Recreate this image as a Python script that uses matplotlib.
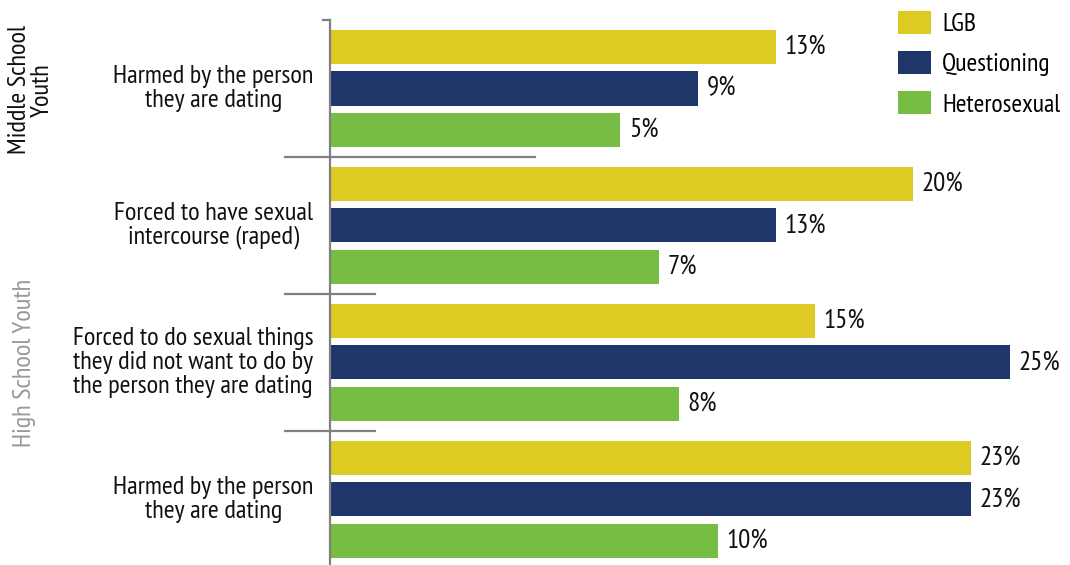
import matplotlib
matplotlib.use("Agg")
import matplotlib.pyplot as plt
from matplotlib import font_manager

# ---- data ----
categories = [
    "Harmed by the person\nthey are dating",
    "Forced to have sexual\nintercourse (raped)",
    "Forced to do sexual things\nthey did not want to do by\nthe person they are dating",
    "Harmed by the person\nthey are dating",
]
series_names = ["LGB", "Questioning", "Heterosexual"]
lgb = [13, 20, 15, 23]
questioning = [9, 13, 25, 23]
heterosexual = [5, 7, 8, 10]
value_labels_fmt = "{}%"
colors = ["#DDCA22", "#1E3669", "#78BD43"]

avail = {f.name for f in font_manager.fontManager.ttflist}
fam = "DejaVu Sans"
for cand in ["PT Sans Narrow", "Fira Sans Condensed", "Roboto Condensed",
             "Barlow Semi Condensed", "Asap Condensed", "Archivo Narrow"]:
    if cand in avail:
        fam = cand
        break
plt.rcParams["font.family"] = [fam, "DejaVu Sans"]

W, H = 1070, 565
fig = plt.figure(figsize=(W / 100, H / 100), dpi=100)
ax_left = 331 / W
ax = fig.add_axes([ax_left, 0, 1 - ax_left, 1])

# scale: pixel x = 522.5 + 19.5*v
x0 = (331 - 522.5) / 19.5
x1 = (1070 - 522.5) / 19.5
ax.set_xlim(x0, x1)
pitch = 41.5
y_top = -47 / pitch
y_bot = (H - 47) / pitch
ax.set_ylim(y_bot, y_top)

gp = 3.3
bh = 0.82
fs = 19
series = [lgb, questioning, heterosexual]
for i, (vals, col, name) in enumerate(zip(series, colors, series_names)):
    ys = [g * gp + i for g in range(len(vals))]
    widths = [v - x0 for v in vals]
    ax.barh(ys, widths, left=x0, height=bh, color=col, label=name)
    for y, v in zip(ys, vals):
        ax.text(v + 0.45, y, value_labels_fmt.format(v), va="center", ha="left",
                fontsize=19.5, color="#111111")

for g, cat in enumerate(categories):
    yc = g * gp + 1
    ax.text(x0 - 0.9, yc, cat, ha="right", va="center", fontsize=fs,
            multialignment="center", linespacing=1.05, color="#111111", clip_on=False)

for a in ax.spines.values():
    a.set_visible(False)
ax.set_xticks([])
ax.set_yticks([])

gray = "#808080"
# vertical axis line
ax.plot([x0 - 0.03, x0 - 0.03], [(20 - 47) / pitch, y_bot], color=gray, lw=1.6, clip_on=False)
ax.plot([x0 - 0.4, x0 - 0.03], [(20 - 47) / pitch] * 2, color=gray, lw=1.6, clip_on=False)
# separators
sep_x_left = (285 - 522.5) / 19.5
for g, right_px in zip(range(1, 4), [535, 375, 375]):
    yy = (g * gp + (g - 1) * gp + 2) / 2
    ax.plot([sep_x_left, (right_px - 522.5) / 19.5], [yy, yy], color=gray, lw=1.6, clip_on=False)

# side labels
fig.text(31 / W, 1 - 90 / H, "Middle School\nYouth", rotation=90, ha="center", va="center",
         fontsize=fs, color="#111111", multialignment="center", linespacing=0.95)
fig.text(25 / W, 1 - 363 / H, "High School Youth", rotation=90, ha="center", va="center",
         fontsize=fs, color="#999999")

leg = ax.legend(loc="upper left", bbox_to_anchor=((898 - 331) / (W - 331), 1 - 11 / H),
                frameon=False, fontsize=18.5, handlelength=1.3, handleheight=1.0,
                labelspacing=0.58, handletextpad=0.42, borderaxespad=0, borderpad=0)

fig.savefig("out.png", dpi=100)
